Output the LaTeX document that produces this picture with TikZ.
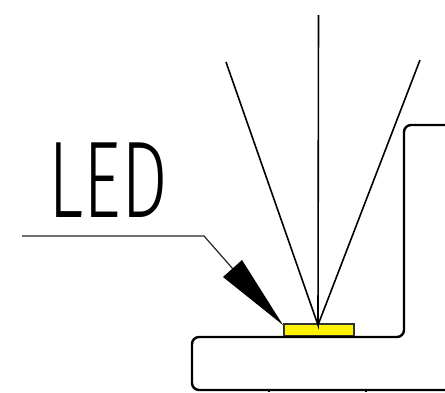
\documentclass[tikz,border=0pt]{standalone}
\usepackage{fontspec}
\newfontfamily\ledfont{Fira Sans Light}
\begin{document}
\begin{tikzpicture}[x=1pt,y=-1pt,
  body/.style={line width=2.4pt,rounded corners=7pt,line join=round},
  ray/.style={line width=1.6pt},
  leader/.style={line width=1.2pt,draw=black!85},
  chip/.style={draw=black!80,line width=1.8pt,fill=yellow,minimum width=70pt,minimum height=12pt,inner sep=0pt,anchor=south west},
  lbl/.style={inner sep=0pt,anchor=base west,font=\ledfont\fontsize{109}{109}\selectfont,xscale=0.675}]
\useasboundingbox (0,0) rectangle (445,392);
\fill[white] (0,0) rectangle (445,392);
\node[chip] (led) at (283,337) {};
\draw[body] (446,125) -- (404,125) -- (404,337) -- (192,337) -- (192,390) -- (446,390);
\draw[line width=1.2pt] (269,390) -- (269,392) (366,390) -- (366,392);
\coordinate (c) at (318,325);
\coordinate (r1) at (226,62);
\coordinate (r2) at (318.5,15);
\coordinate (r3) at (420,60);
\draw[ray] (r1) -- (c) -- (r2) (c) -- (r3);
\coordinate (l0) at (22,236);
\coordinate (l1) at (204,236);
\coordinate (l2) at (233,269);
\coordinate (w1) at (223,277);
\coordinate (w2) at (242,260);
\coordinate (tip) at (283,325);
\draw[leader] (l0) -- (l1) -- (l2);
\fill[black] (w1) -- (w2) -- (tip) -- cycle;
\node[lbl] (text) at (48.5,217) {LED};
\end{tikzpicture}
\end{document}
